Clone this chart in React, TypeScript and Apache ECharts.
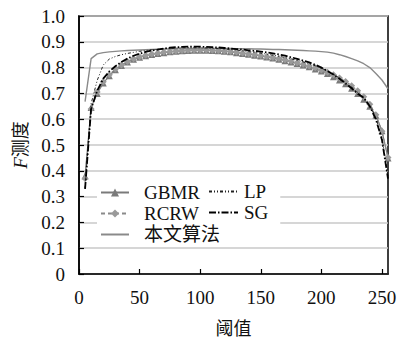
import React, { useEffect, useRef } from "react";
import * as echarts from "echarts";

const thresholds = [5,10,15,20,25,30,35,40,45,50,55,60,65,70,75,80,85,90,95,100,105,110,115,120,125,130,135,140,145,150,155,160,165,170,175,180,185,190,195,200,205,210,215,220,225,230,235,240,245,250,255];

const gbmr = [0.38,0.645,0.70,0.74,0.768,0.792,0.808,0.822,0.832,0.84,0.846,0.851,0.855,0.858,0.861,0.863,0.865,0.866,0.867,0.867,0.867,0.866,0.865,0.863,0.861,0.858,0.855,0.852,0.848,0.845,0.841,0.837,0.832,0.827,0.822,0.816,0.81,0.803,0.795,0.787,0.777,0.765,0.752,0.737,0.72,0.7,0.677,0.65,0.615,0.555,0.45];

const rcrw = [0.37,0.64,0.705,0.745,0.772,0.795,0.81,0.824,0.834,0.842,0.848,0.853,0.857,0.86,0.862,0.864,0.866,0.867,0.868,0.868,0.868,0.867,0.866,0.864,0.862,0.86,0.857,0.854,0.851,0.847,0.843,0.839,0.835,0.83,0.825,0.819,0.813,0.806,0.799,0.791,0.782,0.772,0.76,0.746,0.73,0.71,0.687,0.658,0.617,0.553,0.452];

const lp = [0.33,0.66,0.75,0.81,0.833,0.843,0.85,0.855,0.859,0.863,0.866,0.869,0.871,0.873,0.875,0.876,0.877,0.877,0.877,0.877,0.876,0.875,0.874,0.872,0.87,0.868,0.865,0.862,0.859,0.856,0.852,0.848,0.844,0.839,0.834,0.828,0.822,0.815,0.807,0.798,0.787,0.774,0.759,0.742,0.724,0.704,0.682,0.652,0.605,0.53,0.38];

const sg = [0.33,0.64,0.71,0.757,0.785,0.805,0.822,0.835,0.846,0.854,0.861,0.866,0.87,0.874,0.877,0.879,0.88,0.881,0.881,0.881,0.88,0.879,0.878,0.876,0.874,0.872,0.87,0.867,0.865,0.862,0.859,0.855,0.851,0.846,0.84,0.834,0.827,0.82,0.811,0.8,0.787,0.773,0.757,0.738,0.72,0.699,0.683,0.65,0.6,0.52,0.37];

const ours = [0.668,0.835,0.853,0.858,0.861,0.863,0.865,0.866,0.867,0.868,0.869,0.87,0.871,0.872,0.872,0.873,0.873,0.874,0.874,0.874,0.874,0.874,0.874,0.874,0.874,0.873,0.873,0.873,0.872,0.872,0.871,0.87,0.87,0.869,0.868,0.867,0.866,0.865,0.864,0.862,0.86,0.856,0.85,0.843,0.835,0.826,0.815,0.8,0.777,0.752,0.718];

const seriesNames = ["GBMR", "RCRW", "本文算法", "LP", "SG"];
const xAxisName = "阈值";

const FONT = "Liberation Serif, Noto Sans CJK SC, serif";

function pairs(vals: number[]) {
  return thresholds.map((x, i) => [x, vals[i]]);
}

const noSymbol = { color: "transparent", borderColor: "transparent", borderWidth: 0, opacity: 0 };

export default function App() {
  const ref = useRef<HTMLDivElement>(null);
  useEffect(() => {
    document.body.style.margin = "0";
    const chart = echarts.init(ref.current!, null, { renderer: "svg" });
    chart.setOption({
      animation: false,
      backgroundColor: "#fff",
      textStyle: { fontFamily: FONT },
      grid: {
        left: 79,
        right: 13,
        top: 16,
        bottom: 64,
        outerBoundsMode: "none",
        containLabel: false,
        show: true,
        borderColor: "#000",
        borderWidth: 1.5,
        backgroundColor: "transparent",
      },
      xAxis: {
        type: "value",
        min: 0,
        max: 255,
        interval: 50,
        name: xAxisName,
        nameLocation: "middle",
        nameGap: 46,
        nameTextStyle: { fontFamily: FONT, fontSize: 18, color: "#111" },
        axisLine: { show: true, lineStyle: { color: "#000", width: 1.5 } },
        axisTick: { show: true, inside: true, length: 5, lineStyle: { color: "#000", width: 1.2 } },
        axisLabel: { fontFamily: FONT, fontSize: 19, color: "#111", margin: 14, showMaxLabel: false },
        splitLine: { show: false },
      },
      yAxis: {
        type: "value",
        min: 0,
        max: 1,
        interval: 0.1,
        name: "{i|F}测度",
        nameLocation: "middle",
        nameRotate: 90,
        nameGap: 46,
        nameTextStyle: {
          fontFamily: FONT,
          fontSize: 18,
          color: "#111",
          rich: { i: { fontFamily: FONT, fontStyle: "italic", fontSize: 19, color: "#111" } },
        },
        axisLine: { show: true, lineStyle: { color: "#000", width: 1.5 } },
        axisTick: { show: true, inside: true, length: 5, lineStyle: { color: "#000", width: 1.2 } },
        axisLabel: {
          fontFamily: FONT,
          fontSize: 19,
          color: "#111",
          margin: 14,
          formatter: (v: number) => (v === 0 ? "0" : v.toFixed(1)),
        },
        splitLine: { show: true, lineStyle: { color: "#c8c8c8", width: 1.5 } },
      },
      legend: [
        {
          data: [
            { name: seriesNames[0] },
            { name: seriesNames[1] },
            { name: seriesNames[2], itemStyle: noSymbol },
          ],
          orient: "vertical",
          left: 97,
          top: 181,
          padding: [1, 6, 2, 3],
          itemGap: 0,
          itemWidth: 28,
          itemHeight: 10,
          backgroundColor: "#fff",
          textStyle: { fontFamily: FONT, fontSize: 19, color: "#111", lineHeight: 21, padding: [0, 0, 0, 10] },
        },
        {
          data: [
            { name: seriesNames[3], itemStyle: noSymbol },
            { name: seriesNames[4], itemStyle: noSymbol },
          ],
          orient: "vertical",
          left: 205,
          top: 180,
          padding: [1, 12, 2, 3],
          itemGap: 0,
          itemWidth: 29,
          itemHeight: 10,
          backgroundColor: "#fff",
          textStyle: { fontFamily: FONT, fontSize: 19, color: "#111", lineHeight: 21, padding: [0, 0, 0, 1] },
        },
      ],
      series: [
        {
          name: seriesNames[0],
          type: "line",
          data: pairs(gbmr),
          symbol: "triangle",
          symbolSize: 7,
          itemStyle: { color: "#7a7a7a" },
          lineStyle: { color: "#7a7a7a", width: 1.2 },
          z: 2,
        },
        {
          name: seriesNames[1],
          type: "line",
          data: pairs(rcrw),
          symbol: "diamond",
          symbolSize: 7,
          itemStyle: { color: "#9a9a9a" },
          lineStyle: { color: "#8a8a8a", width: 1.2, type: [4, 3] },
          z: 2,
        },
        {
          name: seriesNames[2],
          type: "line",
          data: pairs(ours),
          symbol: "none",
          itemStyle: { color: "#8a8a8a" },
          lineStyle: { color: "#8a8a8a", width: 1.4 },
          z: 3,
        },
        {
          name: seriesNames[3],
          type: "line",
          data: pairs(lp),
          symbol: "none",
          itemStyle: { color: "#222" },
          lineStyle: { color: "#222", width: 1, type: [3, 2, 1, 2, 1, 2] },
          z: 4,
        },
        {
          name: seriesNames[4],
          type: "line",
          data: pairs(sg),
          symbol: "none",
          itemStyle: { color: "#000" },
          lineStyle: { color: "#000", width: 1.8, type: [7, 2, 1.5, 2] },
          z: 4,
        },
      ],
    });
    return () => chart.dispose();
  }, []);
  return <div ref={ref} style={{ width: 401, height: 338 }} />;
}
